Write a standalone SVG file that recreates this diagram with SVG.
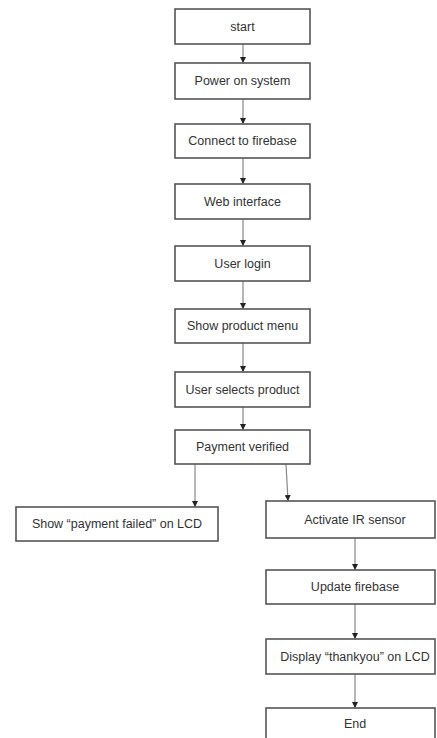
<svg xmlns="http://www.w3.org/2000/svg" width="437" height="738" viewBox="0 0 437 738">
<defs>
<marker id="ah" viewBox="0 0 6 6" refX="6" refY="3" markerWidth="6" markerHeight="6" orient="auto" markerUnits="userSpaceOnUse">
<path d="M0,0 L6,3 L0,6 z" fill="#222"/>
</marker>
<style>
.box{fill:#fff;stroke:#555;stroke-width:1.6}
.lbl{font-family:"Liberation Sans",Arial,sans-serif;font-size:12.5px;fill:#333;text-anchor:middle;dominant-baseline:central}
.con{stroke:#888;stroke-width:1.2;fill:none;marker-end:url(#ah)}
</style>
</defs>
<rect width="437" height="738" fill="#fff"/>
<g id="connectors">
<line class="con" x1="243" y1="44" x2="243" y2="63"/>
<line class="con" x1="243" y1="99" x2="243" y2="124"/>
<line class="con" x1="243" y1="158" x2="243" y2="184"/>
<line class="con" x1="243" y1="219" x2="243" y2="246"/>
<line class="con" x1="243" y1="281" x2="243" y2="309"/>
<line class="con" x1="243" y1="343" x2="243" y2="372"/>
<line class="con" x1="243" y1="407" x2="243" y2="430"/>
<line class="con" x1="195" y1="464" x2="195" y2="507"/>
<line class="con" x1="286" y1="464" x2="288" y2="501"/>
<line class="con" x1="355" y1="538" x2="355" y2="570"/>
<line class="con" x1="355" y1="604" x2="355" y2="639"/>
<line class="con" x1="355" y1="674" x2="355" y2="708"/>
</g>
<g id="start"><rect class="box" x="175" y="9" width="135" height="35"/><text class="lbl" x="242.5" y="27">start</text></g>
<g id="power"><rect class="box" x="175" y="63" width="135" height="36"/><text class="lbl" x="242.5" y="81">Power on system</text></g>
<g id="connect"><rect class="box" x="175" y="124" width="135" height="34"/><text class="lbl" x="242.5" y="141">Connect  to firebase</text></g>
<g id="web"><rect class="box" x="175" y="184" width="135" height="35"/><text class="lbl" x="242.5" y="201.5">Web interface</text></g>
<g id="login"><rect class="box" x="175" y="246" width="135" height="35"/><text class="lbl" x="242.5" y="263.5">User login</text></g>
<g id="menu"><rect class="box" x="175" y="309" width="135" height="34"/><text class="lbl" x="242.5" y="326">Show product menu</text></g>
<g id="select"><rect class="box" x="175" y="372" width="135" height="35"/><text class="lbl" x="242.5" y="389.5">User selects product</text></g>
<g id="payment"><rect class="box" x="175" y="430" width="135" height="34"/><text class="lbl" x="242.5" y="447">Payment verified</text></g>
<g id="failed"><rect class="box" x="16" y="507" width="202" height="34"/><text class="lbl" x="117" y="524">Show “payment failed” on LCD</text></g>
<g id="activate"><rect class="box" x="266" y="501" width="169" height="37"/><text class="lbl" x="355" y="519.5">Activate IR sensor</text></g>
<g id="update"><rect class="box" x="266" y="570" width="169" height="34"/><text class="lbl" x="355" y="587">Update firebase</text></g>
<g id="display"><rect class="box" x="266" y="639" width="169" height="35"/><text class="lbl" x="355" y="656.5">Display “thankyou” on LCD</text></g>
<g id="end"><rect class="box" x="266" y="708" width="169" height="36"/><text class="lbl" x="355" y="724">End</text></g>
</svg>
